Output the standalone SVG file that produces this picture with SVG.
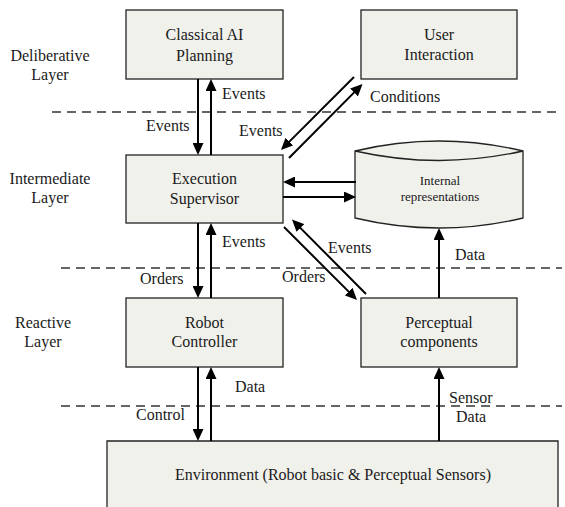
<svg xmlns="http://www.w3.org/2000/svg" width="565" height="507" viewBox="0 0 565 507">
<style>
.box{fill:#f1f1ec;stroke:#222;stroke-width:1.3}
.t{font-family:"Liberation Serif","Times New Roman",serif;font-size:16px;fill:#1a1a1a}
.m{text-anchor:middle}
.s{font-size:13px}
.dash{stroke:#333;stroke-width:1.3;stroke-dasharray:9,6;fill:none}
.arr{stroke:#000;stroke-width:2;fill:none;marker-end:url(#ah)}
</style>
<defs>
<marker id="ah" markerUnits="userSpaceOnUse" markerWidth="12" markerHeight="11" refX="9" refY="5.5" orient="auto">
<path d="M0,0 L12,5.5 L0,11 z" fill="#000"/>
</marker>
</defs>
<rect width="565" height="507" fill="#fff"/>
<g id="layers">
<line class="dash" x1="52" y1="112" x2="562" y2="112"/>
<line class="dash" x1="61" y1="268" x2="562" y2="268"/>
<line class="dash" x1="61" y1="406" x2="562" y2="406"/>
<text class="t m" x="50" y="61">Deliberative</text>
<text class="t m" x="50" y="80">Layer</text>
<text class="t m" x="50" y="184">Intermediate</text>
<text class="t m" x="50" y="203">Layer</text>
<text class="t m" x="43" y="328">Reactive</text>
<text class="t m" x="43" y="347">Layer</text>
</g>
<g id="planning">
<rect class="box" x="126" y="10" width="157" height="69"/>
<text class="t m" x="204.5" y="40">Classical AI</text>
<text class="t m" x="204.5" y="61">Planning</text>
</g>
<g id="user">
<rect class="box" x="361" y="10" width="156" height="69"/>
<text class="t m" x="439" y="40">User</text>
<text class="t m" x="439" y="60">Interaction</text>
</g>
<g id="supervisor">
<rect class="box" x="126" y="155" width="157" height="68"/>
<text class="t m" x="204.5" y="184">Execution</text>
<text class="t m" x="204.5" y="204">Supervisor</text>
</g>
<g id="internal">
<path class="box" d="M355,151 Q439,131 523,151 L523,218 Q439,238 355,218 Z"/>
<path class="box" d="M355,151 Q439,170 523,151" fill="none"/>
<text class="t m s" x="440" y="185">Internal</text>
<text class="t m s" x="440" y="201">representations</text>
</g>
<g id="robot">
<rect class="box" x="126" y="298" width="157" height="69"/>
<text class="t m" x="204.5" y="328">Robot</text>
<text class="t m" x="204.5" y="347">Controller</text>
</g>
<g id="perceptual">
<rect class="box" x="361" y="298" width="156" height="69"/>
<text class="t m" x="439" y="328">Perceptual</text>
<text class="t m" x="439" y="347">components</text>
</g>
<g id="environment">
<path class="box" d="M107,512 L107,441 L558,441 L558,512"/>
<text class="t m" x="333" y="480">Environment (Robot basic &amp; Perceptual Sensors)</text>
</g>
<g id="connectors">
<line class="arr" x1="198" y1="79" x2="198" y2="152"/>
<line class="arr" x1="211" y1="155" x2="211" y2="82"/>
<line class="arr" x1="198" y1="223" x2="198" y2="295"/>
<line class="arr" x1="211" y1="298" x2="211" y2="226"/>
<line class="arr" x1="198" y1="367" x2="198" y2="438"/>
<line class="arr" x1="211" y1="441" x2="211" y2="370"/>
<line class="arr" x1="439" y1="298" x2="439" y2="231"/>
<line class="arr" x1="439" y1="441" x2="439" y2="370"/>
<line class="arr" x1="356" y1="182" x2="286" y2="182"/>
<line class="arr" x1="283" y1="197" x2="353" y2="197"/>
<line class="arr" x1="354" y1="77" x2="283.1" y2="147.9"/>
<line class="arr" x1="289" y1="158" x2="360.4" y2="86.1"/>
<line class="arr" x1="366" y1="294" x2="294.1" y2="221.6"/>
<line class="arr" x1="284" y1="227" x2="354.9" y2="297.9"/>
<text class="t" x="222" y="99">Events</text>
<text class="t" x="146" y="131">Events</text>
<text class="t" x="239" y="136">Events</text>
<text class="t" x="370" y="102">Conditions</text>
<text class="t" x="222" y="247">Events</text>
<text class="t" x="140" y="284">Orders</text>
<text class="t" x="328" y="253">Events</text>
<text class="t" x="282" y="282">Orders</text>
<text class="t" x="455" y="260">Data</text>
<text class="t" x="235" y="392">Data</text>
<text class="t" x="136" y="420">Control</text>
<text class="t" x="449" y="403">Sensor</text>
<text class="t" x="456" y="422">Data</text>
</g>
</svg>
